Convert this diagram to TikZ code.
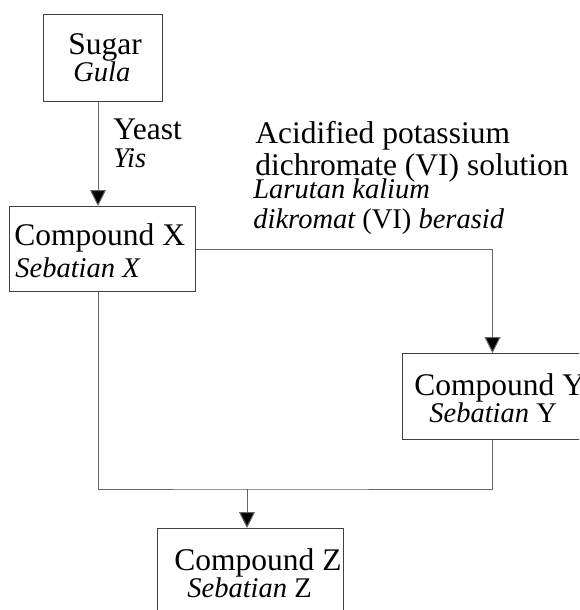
\documentclass[tikz,border=0pt]{standalone}
\usepackage{fontspec}
\setmainfont{LiberationSerif}[Extension=.ttf,UprightFont=*-Regular,ItalicFont=*-Italic,BoldFont=*-Bold]
\usetikzlibrary{arrows.meta,positioning}

\tikzset{
  box/.style={draw=black!75,line width=0.5pt,inner sep=0pt,anchor=north west},
  conn/.style={draw=black!60,line width=0.5pt},
  tip/.style={-{Triangle[length=8pt,width=8pt,fill=black]}},
  rm/.style={inner sep=0pt,anchor=base west,font=\fontsize{15.75}{16}\selectfont},
  it/.style={inner sep=0pt,anchor=base west,font=\fontsize{14.25}{15}\selectfont\itshape},
}

\begin{document}
\begin{tikzpicture}[x=0.5pt,y=-0.5pt]
  \useasboundingbox (0,0) rectangle (579,610);
  \clip (0,0) rectangle (579,610);

  % boxes
  \node[box,minimum width=59.5pt,minimum height=43.5pt](sugar)at(43,14){};
  \node[box,minimum width=93pt,minimum height=42.5pt](cmpX)at(9,206){};
  \node[box,minimum width=90pt,minimum height=43pt](cmpY)at(402,353){};
  \node[box,minimum width=93pt,minimum height=50pt](cmpZ)at(157,528){};

  % labels
  \node[rm](sugarA)at(68,55){Sugar};
  \node[it](sugarB)at(73,82){Gula};
  \node[rm](yeastA)at(113,140){Yeast};
  \node[it](yeastB)at(113,168){Yis};
  \node[rm](acidA)at(255,143){Acidified potassium};
  \node[rm](acidB)at(255,175){dichromate (VI) solution};
  \node[it](acidC)at(253,198){Larutan kalium};
  \node[it](acidD)at(253,228){dikromat \upshape(VI) \itshape berasid};
  \node[rm](cmpXA)at(14,245){Compound X};
  \node[it](cmpXB)at(15,277){Sebatian X};
  \node[rm](cmpYA)at(414,395){Compound Y};
  \node[it](cmpYB)at(429,422){Sebatian \upshape Y};
  \node[rm](cmpZA)at(174,570){Compound Z};
  \node[it](cmpZB)at(187,597){Sebatian \upshape Z};

  % connectors
  \coordinate (lx) at (98,0);
  \coordinate (jn) at (247,489);
  \draw[conn,tip] (sugar.south -| lx) -- (cmpX.north -| lx);
  \draw[conn,tip] (cmpX.east) -| (cmpY.north);
  \draw[conn] (cmpY.south) |- (jn) -| (cmpX.south -| lx);
  \draw[conn,tip] (jn) -- (jn |- cmpZ.north);
\end{tikzpicture}
\end{document}
